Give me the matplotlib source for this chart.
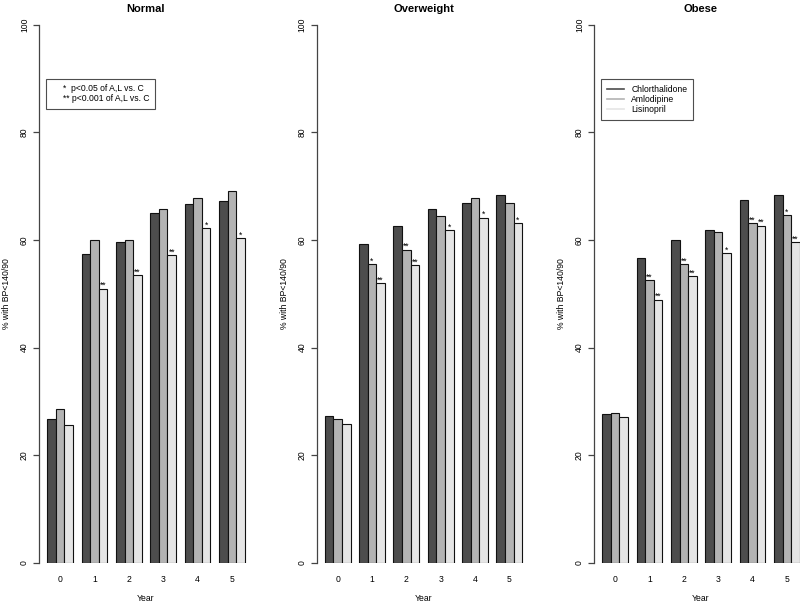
import matplotlib
matplotlib.use("Agg")
import matplotlib.pyplot as plt
from matplotlib.lines import Line2D
from matplotlib.patches import Patch
import numpy as np

plt.rcParams["font.family"] = ["Liberation Sans", "DejaVu Sans"]

years = ["0", "1", "2", "3", "4", "5"]
drugs = ["Chlorthalidone", "Amlodipine", "Lisinopril"]
colors = ["#4d4d4d", "#b3b3b3", "#e5e5e5"]

panels = ["Normal", "Overweight", "Obese"]

normal_c = [26.8, 57.4, 59.7, 65.0, 66.6, 67.2]
normal_a = [28.6, 60.0, 59.9, 65.7, 67.8, 69.1]
normal_l = [25.6, 50.9, 53.4, 57.2, 62.2, 60.3]

over_c = [27.3, 59.2, 62.6, 65.7, 66.8, 68.3]
over_a = [26.8, 55.5, 58.2, 64.4, 67.7, 66.9]
over_l = [25.9, 52.0, 55.3, 61.8, 64.1, 63.1]

obese_c = [27.6, 56.6, 60.0, 61.8, 67.4, 68.4]
obese_a = [27.9, 52.5, 55.5, 61.5, 63.1, 64.6]
obese_l = [27.1, 48.9, 53.3, 57.5, 62.6, 59.6]

# significance marks (amlodipine, lisinopril) per year
normal_sig_a = ["", "", "", "", "", ""]
normal_sig_l = ["", "**", "**", "**", "*", "*"]
over_sig_a = ["", "*", "**", "", "", ""]
over_sig_l = ["", "**", "**", "*", "*", "*"]
obese_sig_a = ["", "**", "**", "", "**", "*"]
obese_sig_l = ["", "**", "**", "*", "**", "**"]

data = {
    "Normal": ([normal_c, normal_a, normal_l], [None, normal_sig_a, normal_sig_l]),
    "Overweight": ([over_c, over_a, over_l], [None, over_sig_a, over_sig_l]),
    "Obese": ([obese_c, obese_a, obese_l], [None, obese_sig_a, obese_sig_l]),
}

W, H = 800, 603
fig = plt.figure(figsize=(W / 100, H / 100), dpi=100)

# axes pixel extents (left, right) ; y: value 0 at 563 px, 100 at 24.5 px
px_left = [39.4, 316.9, 594.4]
px_right = [252.6, 530.1, 807.6]
y0_px, y100_px = 563.0, 24.5

fs = 6.2
for i, name in enumerate(panels):
    l, r = px_left[i], px_right[i]
    ax = fig.add_axes([l / W, (H - y0_px) / H, (r - l) / W, (y0_px - y100_px) / H])
    vals, sigs = data[name]
    groups = np.arange(len(years))
    for k in range(3):
        x = 1 + 4 * groups + k
        bars = ax.bar(x, vals[k], width=1, align="edge", color=colors[k],
                      edgecolor="#111111", linewidth=0.8)
        if sigs[k] is not None:
            for b, s in zip(bars, sigs[k]):
                if s:
                    ax.annotate(s, (b.get_x() + 0.5, b.get_height()),
                                xytext=(0, 0.5), textcoords="offset points",
                                ha="center", va="baseline", fontsize=fs)
    ax.set_xlim(0.08, 24.92)
    ax.set_ylim(0, 100)
    for sp in ["top", "right", "bottom"]:
        ax.spines[sp].set_visible(False)
    ax.spines["left"].set_bounds(0, 100)
    ax.spines["left"].set_color("#444444")
    ax.spines["left"].set_linewidth(0.9)
    ax.set_yticks([0, 20, 40, 60, 80, 100])
    ax.tick_params(axis="y", length=4.5, width=0.9, color="#444444",
                   labelsize=fs, pad=3)
    for t in ax.get_yticklabels():
        t.set_rotation(90)
        t.set_va("center")
    ax.set_xticks(2.5 + 4 * groups)
    ax.set_xticklabels(years)
    ax.tick_params(axis="x", length=0, labelsize=fs, pad=8.5)
    ax.set_xlabel("Year", fontsize=fs, labelpad=7)
    ax.set_ylabel("% with BP<140/90", fontsize=fs)
    ax.yaxis.set_label_coords(-28.0 / (r - l), 0.5)
    ax.set_title(name, fontsize=8, fontweight="bold", pad=9)

    if name == "Normal":
        h = [Patch(visible=False), Patch(visible=False)]
        leg = ax.legend(h, ["*  p<0.05 of A,L vs. C", "** p<0.001 of A,L vs. C"],
                        loc="upper left", bbox_to_anchor=(6.6 / (r - l), 0.899),
                        borderaxespad=0, fontsize=fs, frameon=True, fancybox=False,
                        handlelength=1.2, handletextpad=0.2, borderpad=0.6,
                        labelspacing=0.15)
        leg.get_frame().set_edgecolor("#222222")
        leg.get_frame().set_linewidth(0.8)
    if name == "Obese":
        h = [Line2D([], [], color=c, lw=1.2) for c in colors]
        leg = ax.legend(h, drugs, loc="upper left",
                        bbox_to_anchor=(6.6 / (r - l), 0.899),
                        borderaxespad=0, fontsize=fs, frameon=True, fancybox=False,
                        handlelength=2.0, handletextpad=0.8, borderpad=0.7,
                        labelspacing=0.1)
        leg.get_frame().set_edgecolor("#222222")
        leg.get_frame().set_linewidth(0.8)

fig.savefig("out.png", dpi=100)
